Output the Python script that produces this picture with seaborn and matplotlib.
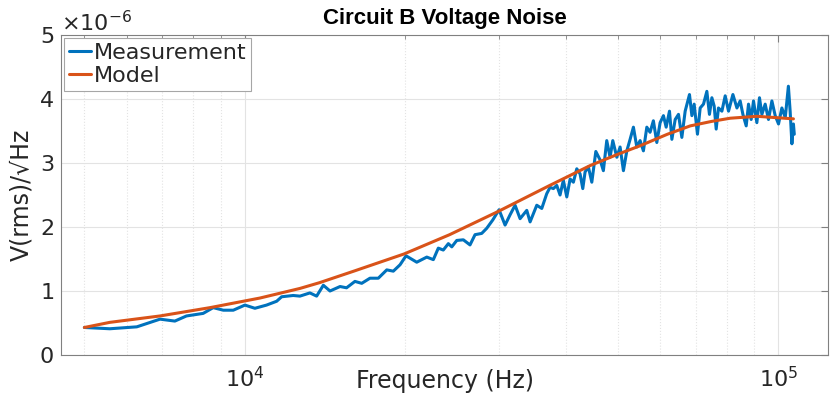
import numpy as np
import pandas as pd
import seaborn as sns
import matplotlib.pyplot as plt
from matplotlib.ticker import ScalarFormatter, NullFormatter, LogLocator

# -------------------- Data --------------------

# measured noise density, frequency in Hz, value in uV/sqrt(Hz)
meas_freq = [5000, 5580, 6270, 6930, 7390, 7770, 8350, 8720, 9110, 9510,
             10000, 10440, 10980, 11470, 11720, 12320, 12680, 13240, 13630, 14030,
             14440, 15080, 15510, 16080, 16560, 17160, 17790, 18450, 18980, 19540,
             20050, 21000, 21930, 22560, 23050, 23550, 24070, 24430, 24960, 25680,
             26430, 27010, 27800, 28410, 29160, 29960, 30750, 31420, 32110, 32810,
             33770, 34260, 35260, 36030, 36810, 37340, 37880, 38440, 38990, 39550,
             40140, 40720, 41300, 41910, 42510, 43010, 43440, 44060, 44720, 45500,
             46340, 47010, 47700, 48390, 48960, 49820, 50530, 51260, 52020, 52760,
             53520, 54310, 55090, 55880, 56710, 57510, 58340, 59210, 60060, 60930,
             61650, 62540, 63190, 64100, 65020, 65970, 66920, 68180, 68890, 69570,
             70570, 71400, 72430, 73490, 74320, 75100, 75850, 76510, 77270, 78420,
             79550, 80700, 82240, 83680, 84860, 85870, 87100, 87970, 88990, 89890,
             91200, 92240, 93200, 94540, 95900, 97320, 98720, 100140, 101600, 103100,
             104500, 105300, 106100, 106800, 107200]
meas_uv = [0.43, 0.41, 0.44, 0.56, 0.53, 0.61, 0.65, 0.74, 0.70, 0.70,
           0.78, 0.73, 0.78, 0.84, 0.91, 0.93, 0.92, 0.97, 0.92, 1.09,
           1.00, 1.07, 1.05, 1.15, 1.12, 1.20, 1.20, 1.33, 1.31, 1.41,
           1.55, 1.45, 1.53, 1.49, 1.67, 1.64, 1.74, 1.69, 1.79, 1.80,
           1.72, 1.88, 1.90, 1.98, 2.11, 2.27, 2.03, 2.19, 2.34, 2.13,
           2.26, 2.08, 2.34, 2.29, 2.52, 2.62, 2.60, 2.65, 2.50, 2.73,
           2.47, 2.75, 2.70, 2.91, 2.83, 2.60, 2.86, 2.94, 2.70, 3.18,
           3.05, 2.88, 3.35, 3.09, 3.35, 3.09, 3.25, 2.88, 3.19, 3.37,
           3.56, 3.25, 3.35, 3.19, 3.56, 3.48, 3.66, 3.32, 3.63, 3.74,
           3.56, 3.81, 3.37, 3.68, 3.76, 3.40, 3.81, 4.07, 3.74, 3.92,
           3.45, 3.86, 3.92, 4.12, 3.76, 4.02, 3.89, 3.53, 3.86, 3.81,
           4.05, 3.81, 4.07, 3.86, 3.97, 3.76, 3.58, 3.92, 3.68, 3.97,
           3.63, 4.02, 3.76, 3.92, 3.68, 3.97, 3.74, 3.61, 3.86, 3.71,
           4.20, 3.81, 3.30, 3.61, 3.45]

# model curve
model_freq = [5000, 5580, 6930, 8600, 10670, 12680, 13800, 16000, 19900, 24200,
              29800, 37300, 44400, 49800, 55100, 62000, 68400, 75000, 81300, 91200,
              106800]
model_uv = [0.43, 0.51, 0.61, 0.74, 0.89, 1.04, 1.13, 1.31, 1.58, 1.88,
            2.24, 2.65, 2.96, 3.13, 3.27, 3.45, 3.58, 3.65, 3.70, 3.73,
            3.69]

BLUE = '#0072BD'
ORANGE = '#D95319'
AXIS_GRAY = '#808080'
TEXT_GRAY = '#262626'


def main():
    sns.set_theme(style='white')
    plt.rcParams['font.family'] = ['DejaVu Sans']

    meas = pd.DataFrame({'freq': meas_freq, 'v': np.array(meas_uv) * 1e-6})
    model = pd.DataFrame({'freq': model_freq, 'v': np.array(model_uv) * 1e-6})

    fig, ax = plt.subplots(figsize=(8.3, 3.97), dpi=100)
    fig.subplots_adjust(left=0.0735, right=0.9976, bottom=0.1058, top=0.9118)

    sns.lineplot(data=meas, x='freq', y='v', ax=ax, color=BLUE, linewidth=2.2,
                 label='Measurement', estimator=None, sort=False)
    sns.lineplot(data=model, x='freq', y='v', ax=ax, color=ORANGE, linewidth=2.2,
                 label='Model', estimator=None, sort=False)

    ax.set_xscale('log')
    ax.set_xlim(4520, 124000)
    ax.set_ylim(0, 5e-6)
    ax.set_yticks(np.arange(0, 6) * 1e-6)
    ax.xaxis.set_major_locator(LogLocator(base=10))
    ax.xaxis.set_minor_locator(LogLocator(base=10, subs=np.arange(2, 10)))
    ax.xaxis.set_minor_formatter(NullFormatter())

    fmt = ScalarFormatter(useMathText=True)
    fmt.set_powerlimits((0, 0))
    ax.yaxis.set_major_formatter(fmt)
    ax.yaxis.get_offset_text().set_fontsize(16)
    ax.yaxis.get_offset_text().set_color(TEXT_GRAY)

    # grid: major solid, minor dotted on x
    ax.grid(True, which='major', color='#e3e3e3', linewidth=0.8, linestyle='-')
    ax.grid(True, which='minor', axis='x', color='#e3e3e3', linewidth=0.8, linestyle=':')

    ax.tick_params(which='both', direction='in', top=True, right=True,
                   colors=AXIS_GRAY, labelcolor=TEXT_GRAY, labelsize=16)
    ax.tick_params(which='major', length=5, width=0.8)
    ax.tick_params(which='minor', length=3, width=0.6)
    ax.tick_params(axis='x', pad=8)
    ax.tick_params(axis='y', pad=5)
    for sp in ax.spines.values():
        sp.set_color(AXIS_GRAY)
        sp.set_linewidth(0.8)

    ax.set_title('Circuit B Voltage Noise', fontsize=16, fontweight='bold',
                 family=['Liberation Sans', 'DejaVu Sans'], color='black', pad=8)
    ax.set_xlabel('Frequency (Hz)', fontsize=17, color=TEXT_GRAY)
    ax.xaxis.set_label_coords(0.5, -0.045)
    ax.set_ylabel('V(rms)/√Hz', fontsize=17, color=TEXT_GRAY, labelpad=4)

    leg = ax.legend(loc='upper left', fontsize=16, frameon=True, fancybox=False,
                    framealpha=1, edgecolor='#a6a6a6', borderaxespad=0.15,
                    handlelength=1.0, handletextpad=0.15, labelspacing=0.15,
                    borderpad=0.2)
    leg.get_frame().set_linewidth(0.8)
    for t in leg.get_texts():
        t.set_color(TEXT_GRAY)

    fig.savefig('out.png', dpi=100)


if __name__ == '__main__':
    main()
